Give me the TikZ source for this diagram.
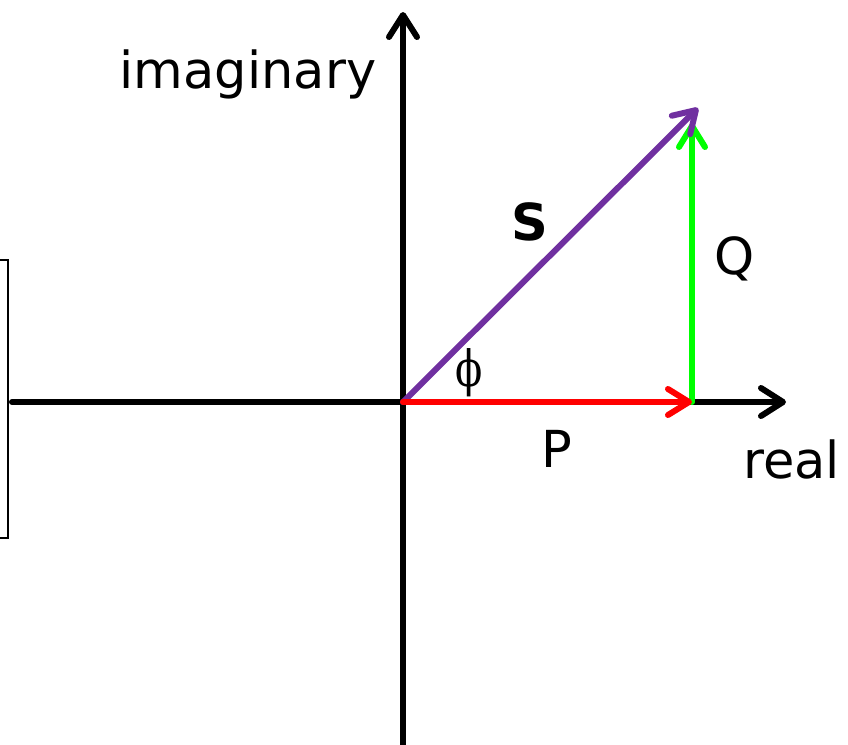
\documentclass[tikz,border=0pt]{standalone}
\usepackage{fontspec}
\setmainfont{DejaVu Sans}
\newfontfamily\phifont{DejaVu Serif}
\usetikzlibrary{arrows.meta}
\definecolor{phasorpurple}{RGB}{112,48,160}
\tikzset{
    axis/.style={
        line width=6pt,
        line cap=round,
        -{Straight Barb[length=22pt, width=28pt, round]}
    },
    vec/.style={
        line width=6pt,
        line cap=round,
        -{Straight Barb[length=21pt, width=26pt, round]}
    },
    axlabel/.style={font=\fontsize{51}{60}\selectfont, inner sep=0pt},
    framebox/.style={draw, line width=1.5pt, inner sep=0pt}
}
\begin{document}
\begin{tikzpicture}[x=1pt, y=-1pt]
\useasboundingbox (0,0) rectangle (848,744);

% frame on the left edge
\node[framebox, minimum width=10pt, minimum height=278pt] (frame) at (3,399) {};

% axes
\coordinate (o) at (403,402);
\coordinate (xl) at (12,402);
\coordinate (xr) at (786,402);
\coordinate (yb) at (403,750);
\coordinate (yt) at (403,12);
\draw[axis] (xl) -- (xr);
\draw[axis] (yb) -- (yt);

% phasors
\coordinate (p) at (692,402);
\coordinate (q) at (692,123);
\coordinate (s) at (698,108);
\draw[vec, green] (p) -- (q);
\draw[vec, phasorpurple] (o) -- (s);
\draw[vec, red] (o) -- (p);

% labels
\node[axlabel, anchor=base] (imag) at (248,88) {imaginary};
\node[axlabel, anchor=base west] (real) at (743,478) {real};
\node[axlabel, anchor=base] (slabel) at (530,240) {\textbf{S}};
\node[axlabel, anchor=base] (qlabel) at (735,274) {Q};
\node[axlabel, anchor=base] (plabel) at (557,467) {P};
\node[inner sep=0pt, anchor=base, xscale=0.8, font=\phifont\fontsize{50}{56}\selectfont] (phi) at (469,386) {ϕ};
\end{tikzpicture}
\end{document}
